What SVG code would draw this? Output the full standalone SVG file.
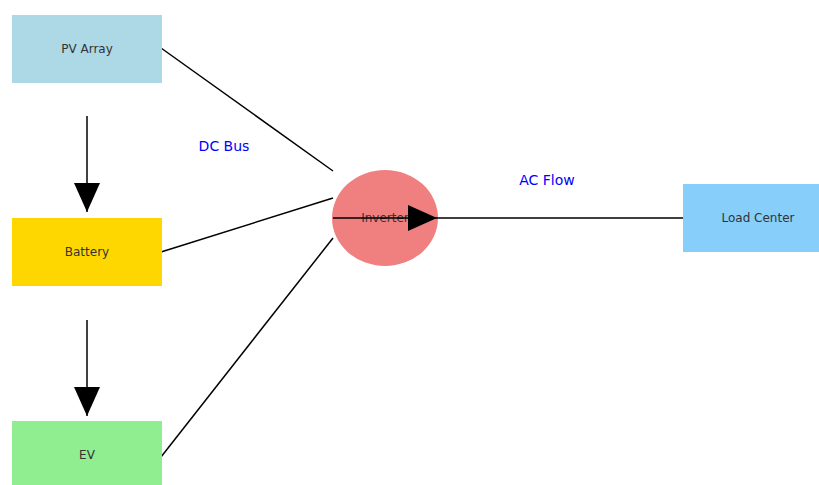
<svg xmlns="http://www.w3.org/2000/svg" width="819" height="485" viewBox="0 0 819 485">
<style>
.lbl{font-family:"DejaVu Sans",sans-serif;font-size:12px;fill:#333;text-anchor:middle;dominant-baseline:central}
.edge-lbl{font-family:"DejaVu Sans",sans-serif;font-size:14px;fill:#0000ff;text-anchor:middle;dominant-baseline:central}
.edge{stroke:#000;stroke-width:1.5;fill:none}
</style>
<defs>
<marker id="ah" markerUnits="userSpaceOnUse" markerWidth="30" markerHeight="26" viewBox="0 0 30 26" refX="29" refY="13" orient="auto">
<path d="M0,0 L29,13 L0,26 Z" fill="#000"/>
</marker>
</defs>
<rect width="819" height="485" fill="#fff"/>
<g id="connectors">
<line class="edge" x1="87" y1="116" x2="87" y2="212" marker-end="url(#ah)"/>
<line class="edge" x1="87" y1="320" x2="87" y2="416" marker-end="url(#ah)"/>
<line class="edge" x1="161" y1="48" x2="333" y2="171"/>
<line class="edge" x1="161" y1="252" x2="333" y2="198"/>
<line class="edge" x1="161" y1="457" x2="333" y2="238"/>
</g>
<g id="pv"><rect x="12" y="15" width="150" height="68" fill="#ADD8E6"/><text class="lbl" x="87" y="49">PV Array</text></g>
<g id="battery"><rect x="12" y="218" width="150" height="68" fill="#FFD700"/><text class="lbl" x="87" y="252">Battery</text></g>
<g id="ev"><rect x="12" y="421" width="150" height="68" fill="#90EE90"/><text class="lbl" x="87" y="455">EV</text></g>
<g id="inverter"><ellipse cx="385" cy="218" rx="53" ry="48" fill="#F08080"/><text class="lbl" x="385" y="218">Inverter</text></g>
<g id="load"><rect x="683" y="184" width="150" height="68" fill="#87CEFA"/><text class="lbl" x="758" y="218">Load Center</text></g>
<g id="connectors-ac">
<line class="edge" x1="333" y1="218" x2="437" y2="218" marker-end="url(#ah)"/>
<line class="edge" x1="437" y1="218" x2="683" y2="218"/>
</g>
<text class="edge-lbl" x="224" y="146">DC Bus</text>
<text class="edge-lbl" x="547" y="180">AC Flow</text>
</svg>
